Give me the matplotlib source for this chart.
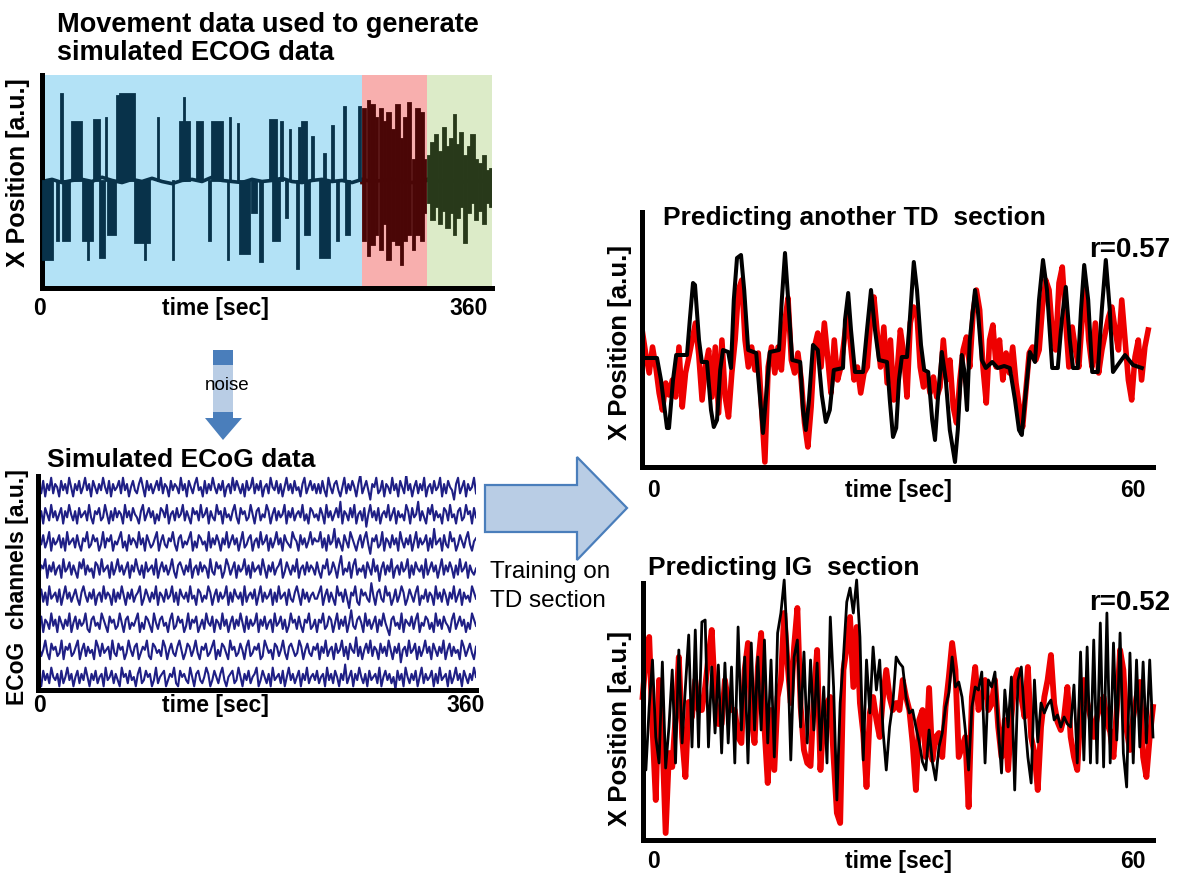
import matplotlib.pyplot as plt
import numpy as np
from matplotlib.patches import Polygon, Rectangle

FONT = "Liberation Sans"
plt.rcParams["font.family"] = [FONT, "DejaVu Sans"]

# ---------------------------------------------------------------
# movement trace 0-360 s (a.u., rest level ~50)
# rest level, one reading every 8 s
MOVE_REST = [50, 51, 49.5, 50.5, 51, 50, 52, 50.5, 49.5, 51, 50, 51.5, 50, 49, 50.5, 51,
             50, 52, 50.5, 50, 49.5, 51, 50, 50.5, 51.5, 50, 49.5, 50.5, 51, 50, 50.5,
             49.5, 51, 50, 50.5, 51, 50, 49.5, 50.5, 51, 50, 50.5, 49.5, 51, 50, 50.5]
# movement bursts: start / end (s) and the range the trace sweeps through
BURST_START = [1, 12, 15.3, 17, 24, 33, 36.5, 41.5, 46.5, 50.8,
               53, 60, 62.5, 74.5, 82, 92.5, 104.5, 110, 113.2, 124,
               133.5, 136, 148.5, 150, 156.5, 158, 168, 174, 182, 185,
               191.5, 195.5, 198, 204, 205.8, 208, 210.5, 215.8, 222, 225.5,
               232.3, 235.8, 241.8, 243, 253.5,
               257, 260.5, 263, 267, 270, 273.5, 276, 280, 283, 287,
               289.5, 293, 296.5, 299, 303, 306,
               308.5, 311.5, 314.5, 317.5, 320.5, 323.5, 326.5, 329.5, 331.5, 334.5,
               337.5, 340.5, 343.5, 346.5, 349.5, 352.5, 355.5, 358.5]
BURST_END = [9, 13.5, 16.5, 22.5, 32, 41, 37.5, 46, 50, 52,
             59.5, 62, 74, 86, 83, 93.8, 105.7, 118, 114.2, 129,
             134.8, 145, 149.5, 151.3, 157.7, 166, 172, 177, 188, 190,
             193, 197, 199.5, 205.5, 207, 212, 214, 217.2, 230, 227,
             233.8, 237.3, 243, 246.5, 255,
             259.5, 262, 266, 269, 272.5, 275, 279, 282, 286, 288.5,
             292, 295.5, 298, 302, 305.5, 307.5,
             311, 314, 317, 320, 323, 326, 329, 331, 334, 337,
             340, 343, 346, 349, 352, 355, 358, 359.7]
BURST_LOW = [13, 22, 50, 22, 50, 22, 13, 50, 14, 50,
             25, 50, 50, 21, 13, 50, 13, 50, 50, 50,
             22, 50, 13, 50, 50, 16, 35, 12, 50, 22,
             50, 33, 50, 9, 50, 50, 25, 50, 14, 50,
             50, 22, 50, 25, 50,
             22, 15, 20, 25, 18, 30, 13, 22, 20, 11,
             22, 25, 18, 25, 22, 35,
             40, 32, 38, 30, 36, 28, 35, 25, 33, 38,
             21, 35, 40, 32, 36, 30, 40, 38]
BURST_HIGH = [50, 50, 91, 50, 78, 50, 50, 79, 50, 80,
              50, 90, 91, 50, 50, 80, 50, 78, 89, 78,
              50, 78, 50, 80, 77, 50, 50, 50, 79, 50,
              78, 50, 74, 50, 75, 78, 50, 71, 50, 63,
              76, 50, 85, 50, 85,
              84, 88, 86, 80, 84, 78, 82, 74, 86, 70,
              80, 87, 60, 84, 82, 60,
              62, 68, 72, 64, 75, 66, 70, 81, 67, 73,
              62, 66, 72, 60, 58, 62, 55, 56]
SECTION_EDGES = [0, 256, 308, 360]
SECTION_BG = ["#b3e2f6", "#f8afae", "#dcebc8"]
SECTION_LINE = ["#08324a", "#4a0606", "#28391a"]

# simulated ECoG channels (top to bottom), noise level 0-9
ECOG_CHANNELS = [
    [5, 3, 7, 2, 6, 4, 8, 3, 6, 5, 2, 7, 4, 6, 3, 8, 5, 2, 6, 4, 7, 3, 5, 8, 4, 6, 2, 7, 5, 3,
     6, 4, 8, 5, 3, 7, 2, 6, 4, 5, 7, 3, 8, 4, 6, 2, 5, 7, 4, 3, 6, 8, 5, 2, 7, 4, 6, 3, 5, 7,
     4, 8, 3, 6, 5, 2, 7, 4, 6, 5, 3, 8, 4, 6, 2, 7, 5, 3, 6, 8, 4, 5, 2, 7, 3, 6, 4, 8, 5, 3,
     6, 4, 7, 2, 5, 6, 3, 8, 4, 7, 5, 3, 6, 2, 7, 4, 5, 8, 3, 6, 4, 7, 2, 5, 6, 3, 8, 5, 4, 7,
     3, 6, 2, 5, 8, 4, 6, 3, 7, 4, 5, 2, 6, 8, 3, 5, 7, 4, 6, 3,
     6, 3, 7, 4, 2, 8, 5, 3, 6, 7, 4, 2, 5, 8, 3, 6, 4, 7, 5, 2, 6, 9, 3, 5, 7, 4, 1, 6, 5, 8,
     3, 4, 7, 2, 6, 5, 3, 8, 4, 6, 2, 7, 5, 3, 9, 4, 6, 2, 5, 7, 3, 6, 4, 8, 2, 5, 6, 3, 7, 4,
     5, 8, 2, 6, 3, 7, 5, 4, 1, 6, 8, 3, 5, 7, 2, 6, 4, 5, 8, 3],
    [4, 6, 2, 7, 5, 3, 8, 4, 6, 3, 5, 7, 2, 6, 4, 8, 5, 3, 6, 2, 7, 4, 5, 6, 3, 8, 4, 2, 6, 5,
     7, 3, 4, 8, 5, 2, 6, 3, 7, 4, 6, 5, 2, 8, 4, 6, 3, 7, 5, 4, 2, 6, 8, 3, 5, 7, 4, 6, 2, 5,
     3, 7, 6, 4, 8, 2, 5, 6, 3, 7, 4, 5, 8, 3, 6, 4, 2, 7, 5, 6, 3, 8, 4, 5, 7, 2, 6, 4, 3, 8,
     5, 6, 2, 7, 4, 5, 3, 6, 8, 4, 2, 7, 5, 6, 3, 4, 8, 5, 2, 6, 7, 3, 5, 4, 8, 6, 2, 5, 7, 3,
     6, 4, 5, 8, 2, 6, 4, 7, 3, 5, 6, 4, 8, 3, 5, 2, 7, 6, 4, 5,
     3, 7, 5, 2, 8, 4, 6, 3, 5, 7, 4, 9, 2, 6, 5, 3, 7, 4, 8, 2, 5, 6, 3, 7, 1, 5, 8, 4, 6, 3,
     7, 2, 5, 6, 4, 8, 3, 5, 7, 2, 6, 4, 5, 3, 8, 6, 2, 7, 4, 5, 9, 3, 6, 4, 2, 7, 5, 8, 3, 6,
     4, 5, 2, 7, 6, 3, 8, 4, 5, 2, 6, 7, 3, 4, 8, 5, 6, 2, 7, 4],
    [6, 4, 7, 3, 5, 8, 2, 6, 4, 5, 7, 3, 6, 2, 8, 4, 5, 6, 3, 7, 4, 2, 6, 5, 8, 3, 4, 7, 5, 6,
     2, 4, 8, 3, 6, 5, 7, 2, 5, 4, 6, 8, 3, 5, 2, 7, 4, 6, 5, 3, 8, 4, 6, 2, 7, 5, 3, 4, 6, 8,
     2, 5, 7, 4, 3, 6, 5, 8, 4, 2, 6, 7, 3, 5, 4, 6, 8, 2, 5, 3, 7, 6, 4, 5, 2, 8, 3, 6, 4, 7,
     5, 2, 6, 4, 8, 3, 5, 7, 4, 6, 2, 5, 8, 3, 4, 6, 7, 2, 5, 6, 3, 8, 4, 5, 7, 2, 6, 3, 5, 8,
     4, 6, 2, 7, 5, 4, 3, 8, 6, 5, 2, 7, 4, 6, 3, 5, 8, 4, 6, 5,
     5, 8, 3, 6, 2, 7, 4, 5, 9, 3, 6, 4, 2, 7, 5, 3, 8, 6, 4, 2, 5, 7, 3, 6, 8, 4, 1, 6, 5, 7,
     3, 4, 8, 2, 6, 5, 3, 7, 4, 6, 2, 8, 5, 3, 6, 4, 7, 2, 5, 8, 3, 6, 4, 5, 7, 2, 6, 3, 9, 4,
     5, 6, 2, 7, 4, 3, 8, 5, 6, 2, 4, 7, 5, 3, 6, 8, 4, 2, 5, 6],
    [3, 6, 5, 8, 2, 6, 4, 7, 3, 5, 6, 2, 8, 4, 5, 7, 3, 6, 4, 2, 7, 5, 8, 3, 6, 4, 5, 2, 7, 6,
     3, 8, 4, 5, 6, 2, 7, 3, 5, 8, 4, 6, 3, 5, 7, 2, 6, 4, 8, 5, 3, 6, 2, 7, 4, 5, 6, 3, 8, 2,
     5, 7, 4, 6, 3, 5, 8, 4, 2, 6, 7, 5, 3, 6, 4, 8, 2, 5, 6, 3, 7, 4, 6, 5, 2, 8, 4, 3, 7, 5,
     6, 2, 4, 8, 6, 3, 5, 7, 2, 6, 4, 5, 8, 3, 6, 2, 7, 4, 5, 6, 3, 8, 5, 2, 6, 4, 7, 3, 5, 6,
     8, 2, 4, 7, 5, 3, 6, 4, 8, 2, 5, 6, 3, 7, 4, 6, 5, 3,
     7, 4, 2, 6, 5, 8, 3, 4, 7, 5, 2, 6, 9, 3, 5, 4, 7, 2, 6, 8, 3, 5, 4, 6, 2, 7, 5, 3, 8, 4,
     6, 1, 5, 7, 3, 6, 4, 8, 2, 5, 6, 3, 7, 4, 5, 8, 2, 6, 3, 7, 5, 4, 6, 2, 8, 3, 5, 7, 4, 6,
     2, 5, 8, 3, 6, 4, 7, 5, 2, 6, 3, 8, 4, 5, 7, 2, 6, 4, 3, 5],
    [5, 7, 3, 6, 2, 8, 4, 5, 6, 3, 7, 2, 5, 8, 4, 6, 3, 5, 7, 4, 2, 6, 8, 5, 3, 6, 4, 7, 2, 5,
     6, 3, 8, 4, 6, 5, 2, 7, 3, 6, 4, 8, 5, 2, 6, 4, 7, 3, 5, 6, 8, 2, 4, 7, 5, 3, 6, 4, 8, 2,
     6, 5, 3, 7, 4, 5, 8, 3, 6, 2, 7, 5, 4, 6, 3, 8, 4, 5, 2, 7, 6, 3, 5, 4, 8, 6, 2, 5, 7, 3,
     6, 4, 5, 8, 2, 6, 3, 7, 5, 4, 6, 2, 8, 3, 5, 6, 4, 7, 2, 5, 8, 3, 6, 4, 5, 7, 2, 6, 3, 8,
     4, 5, 6, 2, 7, 4, 3, 6, 8, 5, 2, 7, 4, 6, 3, 5, 6, 4,
     4, 6, 8, 2, 5, 7, 3, 6, 4, 2, 8, 5, 6, 3, 7, 4, 1, 6, 5, 8, 3, 2, 7, 5, 6, 4, 3, 9, 5, 2,
     6, 7, 4, 3, 8, 5, 6, 2, 4, 7, 3, 5, 8, 6, 2, 4, 7, 5, 3, 6, 8, 2, 5, 4, 7, 3, 6, 5, 2, 8,
     4, 6, 3, 7, 5, 2, 6, 4, 8, 3, 5, 7, 2, 6, 4, 5, 3, 8, 6, 4],
    [4, 7, 2, 6, 5, 3, 8, 4, 6, 2, 7, 5, 3, 6, 4, 8, 2, 5, 7, 3, 6, 4, 5, 8, 3, 2, 6, 7, 4, 5,
     3, 8, 6, 4, 2, 7, 5, 6, 3, 4, 8, 5, 2, 6, 7, 3, 5, 4, 6, 8, 2, 5, 3, 7, 6, 4, 2, 8, 5, 3,
     6, 7, 4, 5, 2, 6, 8, 3, 4, 7, 5, 6, 2, 4, 8, 3, 6, 5, 7, 2, 4, 6, 3, 8, 5, 4, 7, 2, 6, 5,
     3, 8, 4, 6, 2, 5, 7, 3, 6, 4, 8, 5, 2, 7, 3, 6, 4, 5, 8, 2, 6, 4, 7, 3, 5, 6, 2, 8, 4, 5,
     7, 3, 6, 2, 4, 8, 5, 6, 3, 7, 4, 2, 6, 5, 8, 3, 4, 6,
     2, 6, 5, 8, 3, 4, 7, 6, 2, 5, 8, 3, 6, 4, 7, 2, 5, 9, 4, 3, 6, 7, 5, 2, 8, 4, 6, 3, 5, 7,
     2, 6, 4, 8, 5, 3, 1, 6, 7, 4, 5, 3, 8, 2, 6, 5, 4, 7, 3, 6, 8, 2, 5, 4, 7, 6, 3, 5, 2, 8,
     4, 6, 3, 7, 5, 4, 2, 6, 8, 3, 5, 7, 4, 6, 2, 5, 3, 8, 6, 4],
    [6, 3, 5, 8, 4, 2, 7, 5, 6, 3, 4, 8, 2, 6, 5, 7, 3, 4, 6, 8, 2, 5, 7, 3, 6, 4, 5, 2, 8, 6,
     3, 7, 4, 5, 6, 2, 8, 4, 3, 7, 5, 6, 2, 4, 8, 5, 3, 6, 7, 2, 4, 6, 5, 8, 3, 2, 7, 6, 4, 5,
     3, 8, 6, 2, 5, 7, 4, 3, 6, 8, 5, 2, 4, 7, 6, 3, 5, 8, 4, 2, 6, 5, 7, 3, 4, 6, 8, 2, 5, 3,
     7, 6, 4, 2, 8, 5, 6, 3, 4, 7, 5, 2, 6, 8, 3, 4, 6, 5, 7, 2, 3, 8, 6, 4, 5, 2, 7, 6, 3, 5,
     8, 4, 2, 6, 7, 5, 3, 4, 8, 6, 2, 5, 7, 4, 3, 6,
     5, 7, 2, 6, 4, 8, 3, 5, 6, 2, 7, 4, 5, 8, 3, 6, 2, 7, 5, 4, 9, 3, 6, 2, 5, 7, 4, 8, 3, 6,
     5, 2, 7, 4, 6, 3, 8, 5, 2, 6, 4, 7, 1, 5, 6, 3, 8, 4, 5, 7, 2, 6, 3, 5, 8, 4, 6, 2, 7, 5,
     3, 6, 4, 8, 2, 5, 7, 3, 6, 4, 5, 2, 8, 6, 3, 5, 7, 4, 2, 6],
    [5, 2, 7, 4, 6, 3, 8, 5, 4, 6, 2, 7, 3, 5, 8, 4, 6, 2, 5, 7, 3, 6, 4, 8, 5, 2, 6, 4, 7, 3,
     5, 6, 2, 8, 4, 5, 7, 3, 6, 4, 2, 8, 5, 6, 3, 7, 4, 5, 2, 6, 8, 3, 4, 7, 5, 6, 2, 4, 8, 3,
     5, 6, 7, 2, 4, 6, 5, 8, 3, 2, 7, 5, 6, 4, 3, 8, 5, 2, 6, 7, 4, 3, 5, 8, 6, 2, 4, 7, 5, 3,
     6, 8, 4, 2, 5, 6, 7, 3, 4, 8, 5, 2, 6, 4, 7, 3, 5, 6, 8, 2, 4, 7, 5, 3, 6, 2, 8, 4, 5, 6,
     3, 7, 2, 5, 8, 4, 6, 3, 5, 7, 2, 6, 4, 8, 3, 5, 6, 4,
     7, 3, 5, 6, 2, 8, 4, 6, 3, 7, 5, 2, 6, 4, 9, 3, 5, 7, 2, 6, 4, 8, 5, 3, 6, 2, 7, 4, 5, 6,
     3, 8, 2, 5, 7, 4, 6, 3, 5, 1, 7, 4, 6, 2, 8, 5, 3, 6, 4, 7, 2, 5, 8, 3, 6, 4, 5, 7, 2, 6,
     3, 8, 4, 5, 6, 2, 7, 3, 5, 8, 4, 6, 2, 7, 5, 3, 6, 4, 8, 5],
]

# prediction of another TD section (0-60 s)
TD_PRED_T = [
    -1.25, 0.5, 1.0, 1.75, 2.0, 2.5, 2.9, 4.25, 4.6, 5.0,
    5.25, 5.75, 6.1, 6.75, 7.25, 7.6, 8.0, 8.4, 8.75, 9.4,
    9.75, 10.1, 10.5, 11.0, 11.4, 11.9, 12.9, 13.4, 13.75, 14.1,
    14.6, 15.75, 16.1, 16.5, 16.9, 17.4, 18.4, 18.75, 19.1, 19.5,
    20.0, 20.6, 21.1, 21.6, 22.1, 22.6, 23.75, 24.0, 24.4, 24.75,
    25.25, 26.25, 26.75, 27.25, 27.75, 28.25, 29.25, 29.6, 30.0, 30.4,
    30.75, 31.1, 31.75, 32.1, 32.6, 33.0, 33.5, 33.9, 34.4, 34.9,
    35.25, 35.6, 36.1, 36.6, 37.1, 37.75, 38.1, 38.6, 38.9, 39.25,
    39.6, 40.25, 40.6, 41.1, 41.6, 42.4, 43.1, 43.9, 44.6, 45.25,
    45.75, 46.1, 46.5, 47.1, 47.75, 48.25, 48.75, 49.25, 49.9, 50.6,
    51.1, 51.6, 52.1, 52.5, 53.1, 53.5, 53.9, 54.4, 54.9, 55.6,
    56.1, 56.6, 57.1, 57.5, 58.1, 59.0, 60.0, 61.1,
]
TD_PRED_Y = [
    0.2, 0.2, -2.0, -6.8, -6.8, -2.0, 0.5, 0.5, 4.0, 7.7,
    7.5, 2.0, -0.2, -0.2, -5.0, -6.7, -6.0, -1.0, 1.0, 0.8,
    -0.8, 6.0, 10.2, 10.5, 7.0, 1.0, 0.7, -4.0, -7.3, -4.0,
    0.8, 1.0, 6.0, 10.7, 6.0, 0.0, -0.2, -5.0, -7.0, -4.0,
    1.5, 1.0, -3.5, -6.2, -5.0, -1.0, -0.8, 4.0, 6.7, 3.0,
    -1.2, -1.2, 3.0, 7.0, 3.0, 0.0, -0.2, -4.0, -7.7, -6.8,
    -2.0, 0.3, 0.3, 4.0, 9.8, 7.0, 1.5, -1.0, -1.2, -6.0,
    -8.0, -4.0, 0.8, -2.0, -7.0, -10.2, -7.0, 0.5, -1.0, -5.0,
    2.0, 7.0, 5.0, 0.0, -0.8, -0.2, -0.8, -0.6, -0.8, -4.0,
    -7.0, -7.5, -4.0, 0.8, -0.2, 6.0, 10.0, 7.0, -0.8, -0.8,
    4.0, 7.3, 2.0, -0.8, -0.8, 5.0, 9.5, 6.0, -1.2, -1.2,
    5.0, 10.0, 5.0, -1.2, -0.5, 0.5, -0.5, -0.8,
]
# actual movement in that section, evenly sampled
TD_ACTUAL = [
    2.7, 0.5, -1.3, 1.3, -0.7, -3.3, -5.0, -2.3, -3.5, -2.0,
    -3.7, 1.3, -4.7, -1.3, 0.3, 2.0, 3.7, 0.5, -4.0, -0.7,
    1.0, -3.7, 1.3, -5.3, 2.0, -3.7, -5.7, -1.3, 2.0, 7.0,
    8.0, 2.0, -0.7, 1.3, -1.0, 0.7, -4.7, -10.2, -0.7, 1.3,
    -1.3, 1.3, -1.0, 3.7, 6.2, 0.0, -1.3, 0.7, -2.0, -6.3,
    -8.7, -4.7, 1.3, 2.7, -0.7, 3.7, 0.3, -3.3, 2.0, -2.0,
    -0.7, 2.0, 4.7, 1.3, -2.0, -0.7, -3.3, -1.3, -0.7, 4.0,
    6.3, 2.7, -0.7, 3.3, -2.3, 2.0, -4.0, -1.3, 3.0,
    0.7, -3.7, 3.7, 5.3, 4.7, -0.7, -2.7, -1.3, -3.3, -1.7,
    -3.7, -2.7, 2.0, -2.0, 0.0, -4.7, -6.3, -2.0, 1.0, 2.3,
    -0.7, 4.7, 7.0, 5.0, -0.7, -4.3, 2.0, 3.5, -0.7, 2.0,
    -2.0, 0.7, -1.3, 1.3, -2.3, -4.7, -6.7, -3.0, 0.7, 1.3,
    0.0, 1.0, 5.3, 8.0, 7.0, 2.7, 1.0, 7.7, 9.3, 4.0,
    -0.7, 3.3, 1.0, -0.7, 4.0, 7.3, 2.0, -0.7, 3.7, -1.3,
    1.0, 2.7, 4.3, 5.3, 3.0, 1.0, 6.0, 2.0, -2.0, -4.0,
    0.3, 2.0, -2.0, 1.3, 3.0,
]

# prediction of the IG section (0-60 s), evenly sampled
IG_PRED = [
    -2, -6.3, 0, 4.7, -3, -5.6, 4.5, -6.1, -2, 3.7,
    -5.6, 5.7, -3.6, 2, 7.2, -4, 7.7, -4, 8.5, 8.7,
    -4, 4, -2.6, 4.2, -4.6, 4.4, -3.6, 4, -5.6, 8,
    -2.3, 5, -5.6, 6.4, -2.3, 5, -2.3, 6.7, -3.6, 4.7,
    -5, 7.4, 9.4, 12.7, 6, -5.3, 5, 6.7, -2, 5.5,
    -3.6, 4.7, -2.3, 4.4, -4.3, 2, -5.6, 9, 2, -9.3,
    0.4, 5, 10.5, 11.9, 9.4, 12.7, 7, -5.3, 4.7, -0.6,
    6, 1.7, 4.7, -2.3, -6.3, -2, 0.4, 5, 4.4,
    4, 1, -0.6, -0.3, -2, -3.5, -5.5, -6.3,
    -2.3, -5.5, -7.3, -4, -2.6, 0, 1.4, 5, 2, 2.5,
    1, -2.3, -6.3, 0, 2, 1.7, 3.5, -5.6, 2.7, 2,
    3.5, -2, -6.6, 1.7, -2, 3, -8.3, 2.7, 4, -1,
    -5, -7.6, 2.7, -3.5, 0.4, -0.6, 0.2, 0.7, -1.3, -0.8,
    -2, -1, -1.7, -2, 2.2, -5.6, 5.5, -5.3, 6, -5.6,
    6.7, -5.6, 8.4, -6, 9.4, -5.6, 6.4, -3.3, 7.4, -4.6,
    -8, 5.4, -5.6, 4.7, -4, 4.5, -3.6, 4.7, -3,
]
IG_ACTUAL = [
    1, 5, 7, -2, -9.3, 2.7, -3, -12.6, -4.6, -6,
    -1, 5, -3, -7, 0.5, -1, 2.7, -0.3, -0.3, 2,
    5, 7.7, 1, -1.7, -1.7, 2.7, 0.5, -0.3, -0.3, -3,
    -3.6, 3.7, 6.4, -1, -3.6, 4, 7.4, -2, -7.6, -0.3,
    -6.3, 1, 2.7, 9.4, 4.4, 0.4, 6, 9.9, 0, -4.3,
    -5.6, -5.9, 1, 5.7, -6.3, -1, 0.4, 1, -5, -10.6,
    -11.6, 3.7, 6, 9, 2, 8, 0.4, -2.6, -8, -0.6,
    1, -1.3, -3, 1, 3.7, 1, -0.3, 0.4, -0.3,
    2.7, 1, -0.3, -3.6, -8.3, -1.3, -0.3, -5,
    1.9, -5.3, -3, -2.6, -5, 0, 3, 6.4, 3.7, -5,
    -4, -3, -10, 1, 4, -0.3, 1, 2.7, -0.3, 0.3,
    2.7, -2, -5, -1.3, -6.3, -1, 2.7, 3.7, 1, -1,
    4, -3, -4.6, -8.3, -2, 1, 2.7, 5.2, 0.3, -1.5,
    -2.3, -1, 2, -3, -5, -6.3, -0.3, 2.7, 0.5, -1,
    -3, -1, 0.3, 1, -1.5, -2.5, -5, -0.3, 5.7, 3.7,
    -2.3, -4.3, -1, 1, 2.5, -5, -7, -3, 0,
]

W, H = 1180, 880
RED = "#ee0000"
ARROW_DARK = "#4a7ebb"
ARROW_LIGHT = "#b9cde5"


def px_axes(fig, left, top, right, bottom):
    """Add an axes given its edges in figure pixels (top-left origin)."""
    ax = fig.add_axes([left / W, 1 - bottom / H, (right - left) / W, (bottom - top) / H])
    ax.set_zorder(2)
    ax.set_facecolor("none")
    for side in ["top", "right"]:
        ax.spines[side].set_visible(False)
    for side in ["left", "bottom"]:
        ax.spines[side].set_linewidth(3.6)
        ax.spines[side].set_color("black")
    ax.set_xticks([])
    ax.set_yticks([])
    return ax


def section_of(t):
    for i in range(3):
        if t < SECTION_EDGES[i + 1]:
            return i
    return 2


fig = plt.figure(figsize=(W / 100, H / 100), dpi=100)

# overlay in pixel coordinates for titles, labels and arrows
ov = fig.add_axes([0, 0, 1, 1])
ov.set_zorder(1)
ov.set_xlim(0, W)
ov.set_ylim(H, 0)
ov.axis("off")

bold = dict(fontweight="bold", color="black")

# ---- panel 1: movement data ----
ax1 = px_axes(fig, 42, 75, 492, 288)
rest_t = np.linspace(0, 360, len(MOVE_REST))
rest_x = np.array(MOVE_REST)
for i in range(3):
    t0, t1 = SECTION_EDGES[i], SECTION_EDGES[i + 1]
    ax1.axvspan(t0, t1, color=SECTION_BG[i], lw=0, zorder=0)
    m = (rest_t >= t0 - 8) & (rest_t <= t1 + 8)
    seg_t = np.clip(rest_t[m], t0, t1)
    ax1.plot(seg_t, rest_x[m], color=SECTION_LINE[i], lw=2.6, zorder=2)
for t0, t1, lo, hi in zip(BURST_START, BURST_END, BURST_LOW, BURST_HIGH):
    c = SECTION_LINE[section_of(t0)]
    ax1.bar(t0, hi - lo, width=t1 - t0, bottom=lo, align="edge", color=c,
            edgecolor=c, linewidth=1.3, zorder=3)
ax1.set_xlim(0, 360)
ax1.set_ylim(0, 100)

ov.text(57, 32, "Movement data used to generate", fontsize=19.5, va="baseline", **bold)
ov.text(57, 60, "simulated ECOG data", fontsize=19.5, va="baseline", **bold)
ov.text(18, 173, "X Position [a.u.]", rotation=90, fontsize=18, ha="center", va="center", **bold)
ov.text(40, 315, "0", fontsize=16.5, ha="center", va="baseline", **bold)
ov.text(215, 315, "time [sec]", fontsize=16.5, ha="center", va="baseline", **bold)
ov.text(469, 315, "360", fontsize=16.5, ha="center", va="baseline", **bold)

# ---- noise arrow ----
ov.add_patch(Polygon([(213, 350), (233, 350), (233, 418), (242, 418), (223, 440),
                      (205, 418), (213, 418)], closed=True, fc=ARROW_DARK, ec="none"))
ov.add_patch(Rectangle((213, 365), 20, 47, fc=ARROW_LIGHT, ec="none"))
ov.text(227, 390, "noise", fontsize=13.5, ha="center", va="baseline", color="black")

# ---- panel 2: simulated ECoG ----
ax2 = px_axes(fig, 38, 476, 476, 690)
n_ch = len(ECOG_CHANNELS)
for k, ch in enumerate(ECOG_CHANNELS):
    t = np.linspace(1, 360, len(ch))
    ax2.plot(t, (n_ch - 1 - k) + (np.array(ch) - 5) * 0.115, color="#1f1f85", lw=1.5)
ax2.set_xlim(0, 360)
ax2.set_ylim(-0.48, 7.41)

ov.text(47, 467, "Simulated ECoG data", fontsize=19, va="baseline", **bold)
ov.text(18, 587, "ECoG  channels [a.u.]", rotation=90, fontsize=16.5, ha="center", va="center", **bold)
ov.text(40, 712, "0", fontsize=16.5, ha="center", va="baseline", **bold)
ov.text(215, 712, "time [sec]", fontsize=16.5, ha="center", va="baseline", **bold)
ov.text(466, 712, "360", fontsize=16.5, ha="center", va="baseline", **bold)

# ---- training arrow ----
ov.add_patch(Polygon([(485, 485), (577, 485), (577, 457), (627, 508), (577, 560),
                      (577, 532), (485, 532)], closed=True, fc=ARROW_LIGHT,
                     ec=ARROW_DARK, lw=1.6))
ov.text(490, 578, "Training on", fontsize=17.5, va="baseline", color="black")
ov.text(490, 607, "TD section", fontsize=17.5, va="baseline", color="black")

# ---- panel 3: predicting another TD section ----
ax3 = px_axes(fig, 642, 212, 1153, 467)
ax3.plot(np.linspace(-1.3, 61.9, len(TD_ACTUAL)), TD_ACTUAL, color=RED, lw=4.0,
         solid_joinstyle="round")
ax3.plot(TD_PRED_T, TD_PRED_Y, color="black", lw=2.9, solid_joinstyle="round")
ax3.set_xlim(-1.375, 62.5)
ax3.set_ylim(-10.7, 14.8)

ov.text(663, 225, "Predicting another TD  section", fontsize=19, va="baseline", **bold)
ov.text(1170, 257, "r=0.57", fontsize=20, ha="right", va="baseline", **bold)
ov.text(620, 342, "X Position [a.u.]", rotation=90, fontsize=18.5, ha="center", va="center", **bold)

# ---- panel 4: predicting IG section ----
ax4 = px_axes(fig, 643, 583, 1153, 840)
ax4.plot(np.linspace(-1.3, 62.5, len(IG_ACTUAL)), IG_ACTUAL, color=RED, lw=4.2,
         solid_joinstyle="round", clip_on=False)
ax4.plot(np.linspace(-1.3, 62.5, len(IG_PRED)), IG_PRED, color="black", lw=2.0,
         solid_joinstyle="round", clip_on=False)
ax4.set_xlim(-1.25, 62.5)
ax4.set_ylim(-13.3, 12.4)

ov.text(648, 575, "Predicting IG  section", fontsize=19, va="baseline", **bold)
ov.text(1170, 610, "r=0.52", fontsize=20, ha="right", va="baseline", **bold)
ov.text(620, 728, "X Position [a.u.]", rotation=90, fontsize=18.5, ha="center", va="center", **bold)

# time ticks for the two prediction panels
for ax, base in [(ax3, 497), (ax4, 868)]:
    x0 = ax.transData.transform((0, 0))[0]
    x60 = ax.transData.transform((60, 0))[0]
    ov.text(x0, base, "0", fontsize=16.5, ha="center", va="baseline", **bold)
    ov.text(898, base, "time [sec]", fontsize=16.5, ha="center", va="baseline", **bold)
    ov.text(x60, base, "60", fontsize=16.5, ha="center", va="baseline", **bold)

fig.savefig("out.png", dpi=100)
